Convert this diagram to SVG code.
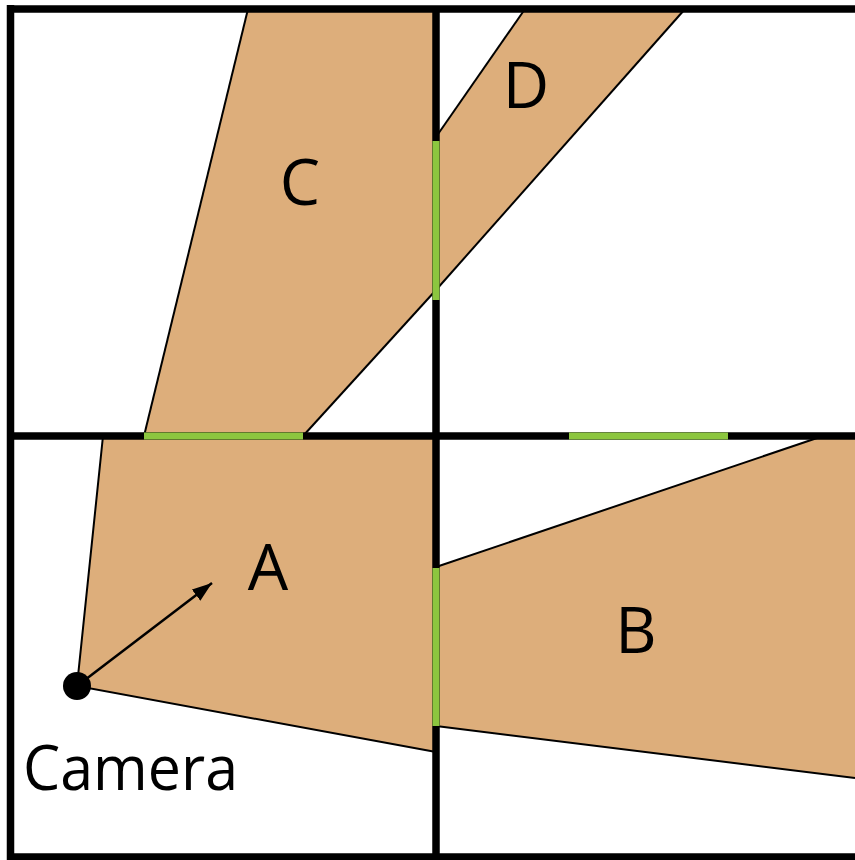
<svg xmlns="http://www.w3.org/2000/svg" width="855" height="860" viewBox="0 0 855 860">
  <style>
    .fill { fill: #DDAE7B; stroke: none; }
    .edge { stroke: #000; stroke-width: 2; fill: none; }
    .wall { stroke: #000; stroke-width: 7.5; fill: none; }
    .portal { stroke: #8CC63F; stroke-width: 7; fill: none; }
    .lbl { font-family: "Open Sans", "DejaVu Sans", sans-serif; font-size: 64px; fill: #000; text-anchor: middle; }
  </style>
  <defs>
    <marker id="ah" viewBox="0 0 10 10" refX="10" refY="5" markerWidth="10" markerHeight="10" markerUnits="userSpaceOnUse" orient="auto">
      <path d="M0,0 L10,5 L0,10 z" fill="#000"/>
    </marker>
    <marker id="ah2" viewBox="0 0 20 14" refX="20" refY="7" markerWidth="20" markerHeight="14" markerUnits="userSpaceOnUse" orient="auto">
      <path d="M0,0 L20,7 L0,14 z" fill="#000"/>
    </marker>
  </defs>
  <rect width="855" height="860" fill="#fff"/>

  <g id="region-A">
    <polygon class="fill" points="103,436 436,436 436,752 77,686"/>
    <polyline class="edge" points="103,436 77,686 436,752"/>
    <text class="lbl" x="268" y="590">A</text>
  </g>
  <g id="region-B">
    <polygon class="fill" points="436,567 823,436 855,436 855,778 436,726"/>
    <line class="edge" x1="436" y1="567" x2="823" y2="436"/>
    <line class="edge" x1="436" y1="726" x2="855" y2="778"/>
    <text class="lbl" x="636" y="653">B</text>
  </g>
  <g id="region-C">
    <polygon class="fill" points="248,9 436,9 436,290 303,436 144,436"/>
    <line class="edge" x1="248" y1="9" x2="144" y2="436"/>
    <line class="edge" x1="436" y1="290" x2="303" y2="436"/>
    <text class="lbl" x="300" y="205">C</text>
  </g>
  <g id="region-D">
    <polygon class="fill" points="436,137 525,9 685,9 436,290"/>
    <line class="edge" x1="525" y1="9" x2="436" y2="137"/>
    <line class="edge" x1="685" y1="9" x2="436" y2="290"/>
    <text class="lbl" x="526" y="108">D</text>
  </g>

  <g id="walls">
    <line class="wall" x1="10.5" y1="5" x2="10.5" y2="860"/>
    <line class="wall" x1="7" y1="9" x2="855" y2="9"/>
    <line class="wall" x1="7" y1="857" x2="855" y2="857"/>
    <line class="wall" x1="436" y1="9" x2="436" y2="860"/>
    <line class="wall" x1="7" y1="436" x2="855" y2="436"/>
  </g>
  <g id="portals">
    <line class="portal" x1="436" y1="141" x2="436" y2="300"/>
    <line class="portal" x1="436" y1="568" x2="436" y2="726"/>
    <line class="portal" x1="144" y1="436" x2="303" y2="436"/>
    <line class="portal" x1="569" y1="436" x2="728" y2="436"/>
  </g>

  <g id="connectors">
    <line x1="77" y1="686" x2="212" y2="583" stroke="#000" stroke-width="2.5" marker-end="url(#ah2)"/>
  </g>

  <g id="camera">
    <circle cx="77" cy="686" r="14" fill="#000"/>
    <text x="23" y="790" font-family="Open Sans, DejaVu Sans, sans-serif" font-size="62" textLength="215" lengthAdjust="spacingAndGlyphs">Camera</text>
  </g>
</svg>
